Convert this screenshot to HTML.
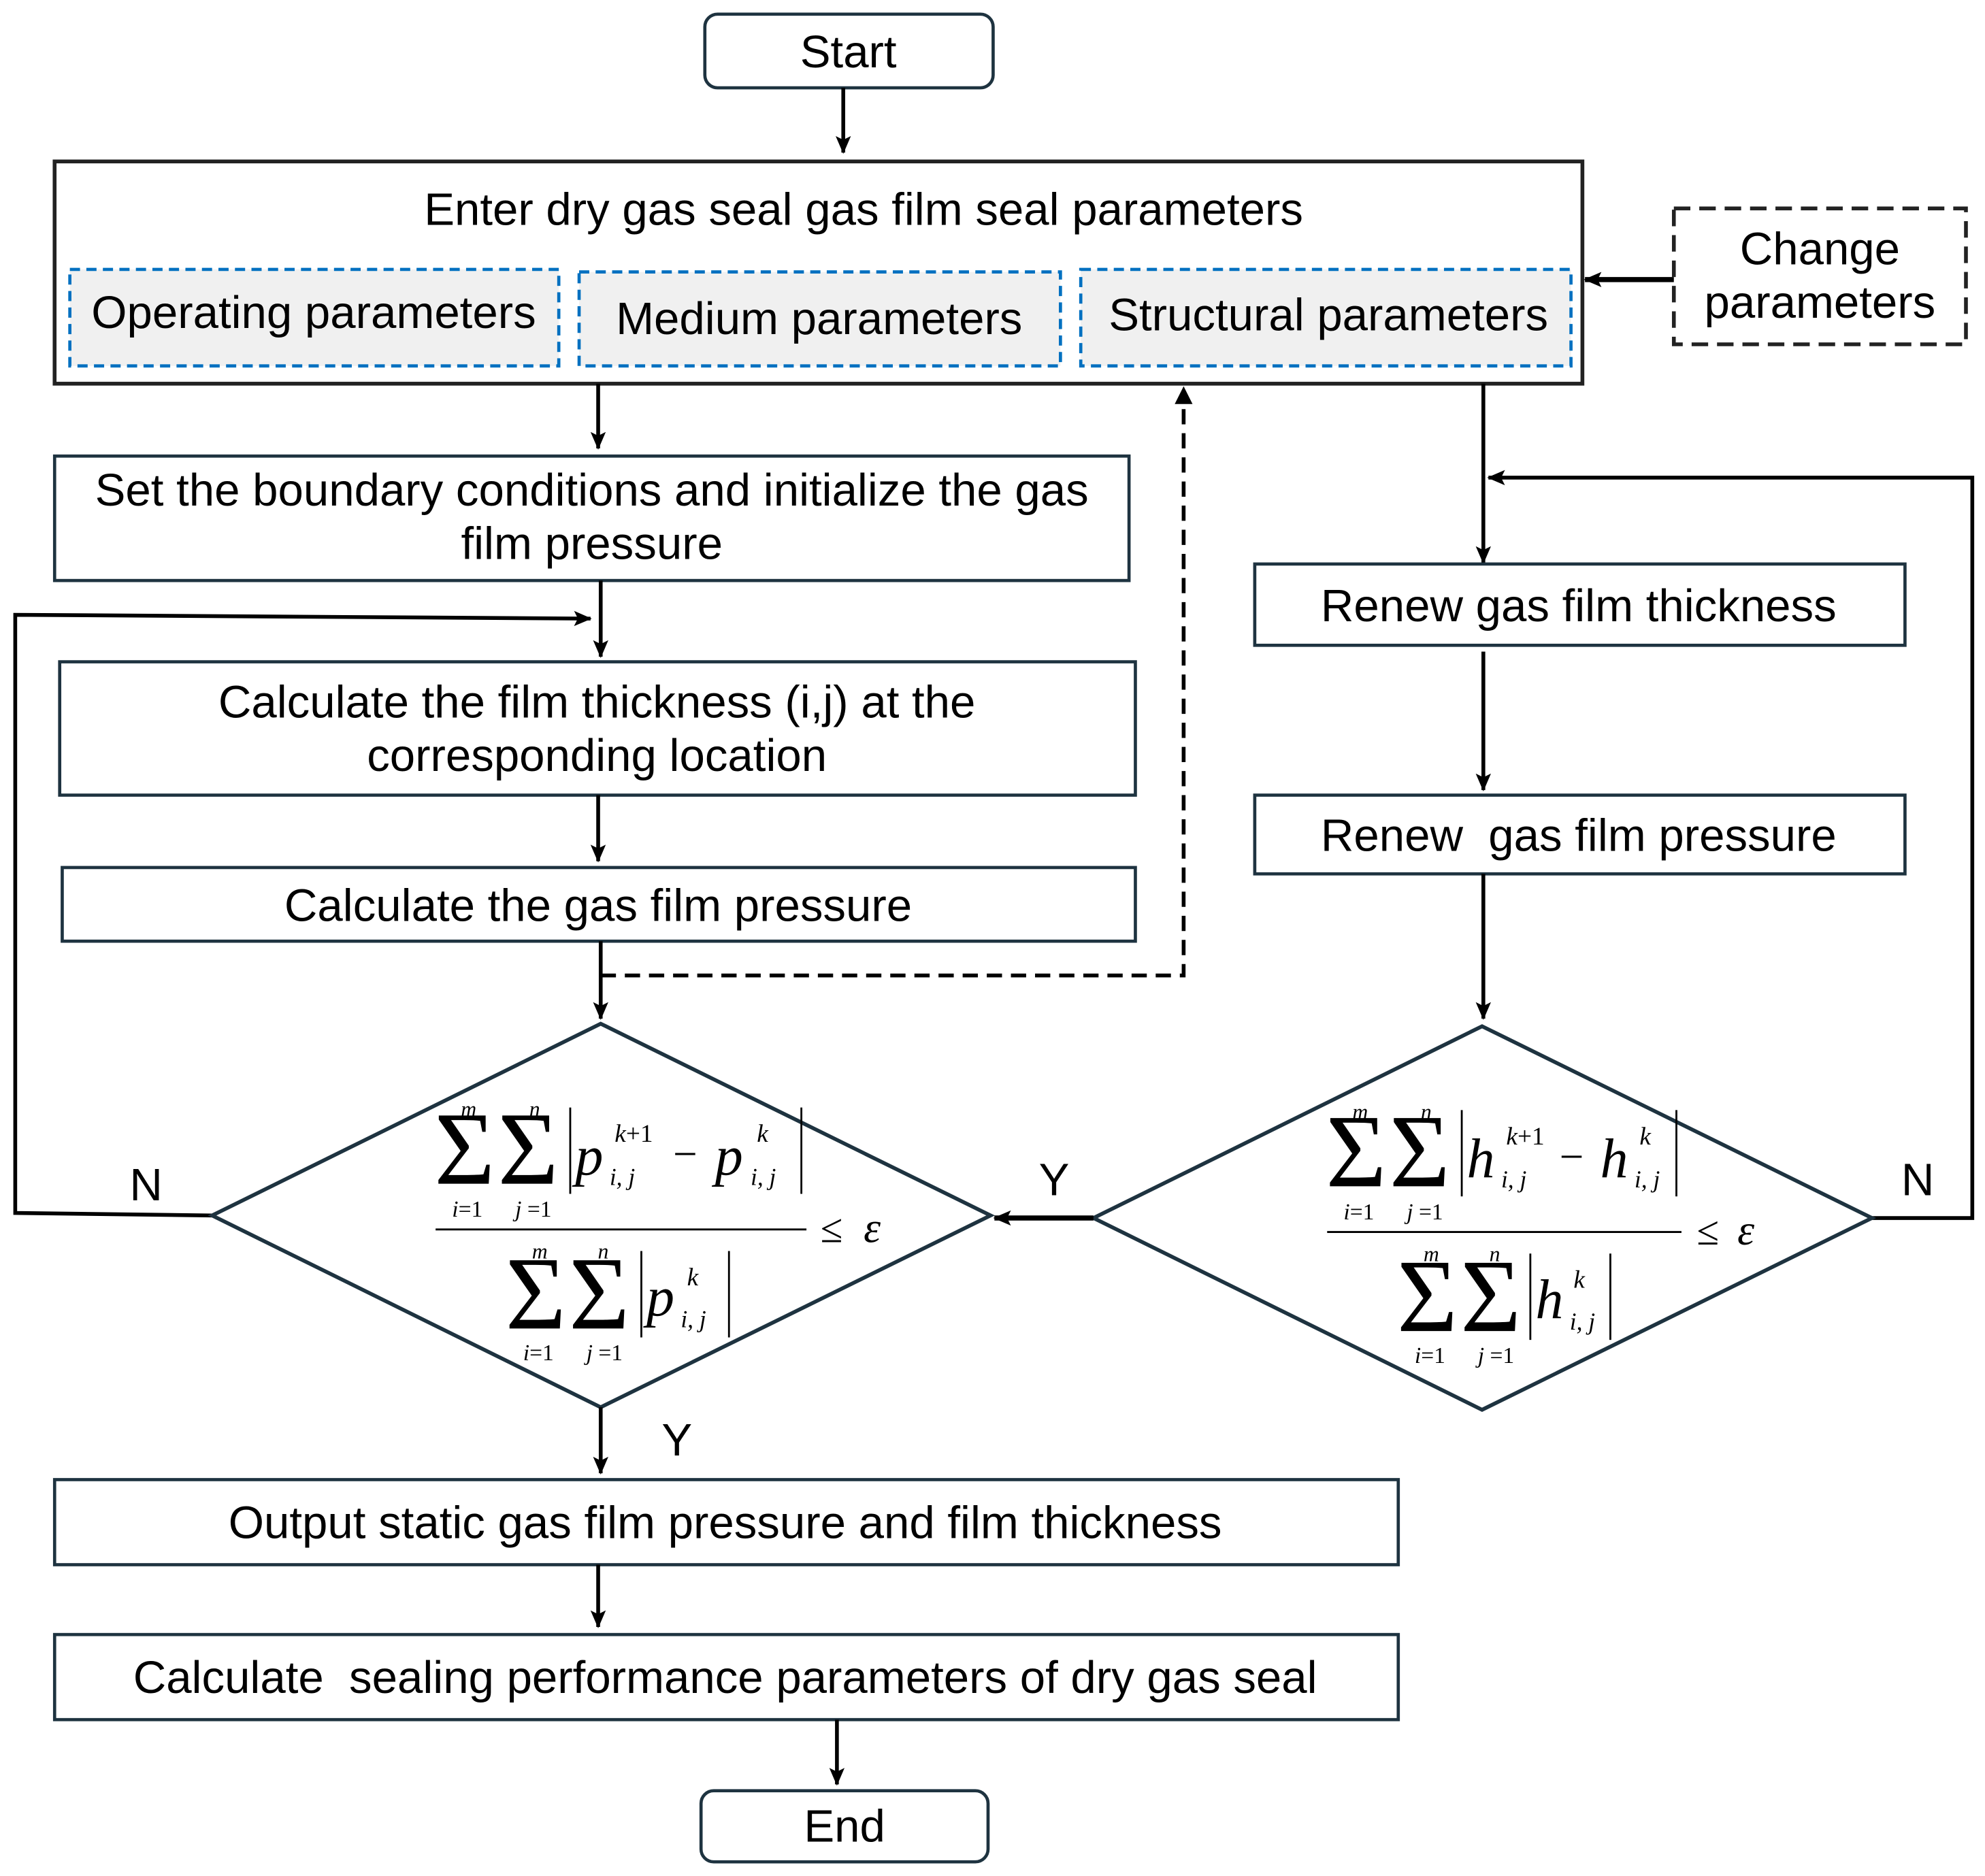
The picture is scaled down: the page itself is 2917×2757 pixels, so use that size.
<!DOCTYPE html>
<html><head><meta charset="utf-8"><style>html,body{margin:0;padding:0;background:#fff}svg{display:block}</style></head>
<body>
<svg width="2917" height="2757" viewBox="0 0 1563 1477" xmlns="http://www.w3.org/2000/svg">
<defs>
<marker id="b" markerWidth="14" markerHeight="14" refX="13" refY="7" orient="auto" markerUnits="userSpaceOnUse" viewBox="0 0 14 14"><path d="M0,1 L14,7 L0,13 L3,7 z" fill="#000"/></marker>
</defs>
<rect width="1563" height="1477" fill="#fff"/>
<g font-family="Liberation Sans, Arial, sans-serif" font-size="36" fill="#000" text-anchor="middle">
<rect x="555" y="11" width="227" height="58" rx="10" fill="#fff" stroke="#1e3340" stroke-width="2.5"/>
<text x="668" y="53">Start</text>
<line x1="664" y1="69" x2="664" y2="120" stroke="#000" stroke-width="3" marker-end="url(#b)"/>
<rect x="43" y="127" width="1203" height="175" fill="#fff" stroke="#222" stroke-width="3"/>
<text x="680" y="177">Enter dry gas seal gas film seal parameters</text>
<g fill="#f0f0f0" stroke="#0070c0" stroke-width="2.5" stroke-dasharray="8,5">
<rect x="55" y="212" width="385" height="76"/>
<rect x="456" y="214" width="379" height="74"/>
<rect x="851" y="212" width="386" height="76"/>
</g>
<text x="247" y="258">Operating parameters</text>
<text x="645" y="263">Medium parameters</text>
<text x="1046" y="260">Structural parameters</text>
<rect x="1318" y="164" width="230" height="107" fill="#fff" stroke="#222" stroke-width="3" stroke-dasharray="13,7"/>
<text x="1433" y="208">Change</text>
<text x="1433" y="250">parameters</text>
<line x1="1318" y1="220" x2="1248" y2="220" stroke="#000" stroke-width="4" marker-end="url(#b)"/>
<line x1="471" y1="302" x2="471" y2="353" stroke="#000" stroke-width="3" marker-end="url(#b)"/>
<rect x="43" y="359" width="846" height="98" fill="#fff" stroke="#1e3340" stroke-width="2.5"/>
<text x="466" y="398">Set the boundary conditions and initialize the gas</text>
<text x="466" y="440">film pressure</text>
<line x1="473" y1="457" x2="473" y2="517" stroke="#000" stroke-width="3" marker-end="url(#b)"/>
<polyline points="167,957 12,955 12,484 465,487" fill="none" stroke="#000" stroke-width="3" marker-end="url(#b)"/>
<rect x="47" y="521" width="847" height="105" fill="#fff" stroke="#1e3340" stroke-width="2.5"/>
<text x="470" y="565">Calculate the film thickness (i,j) at the</text>
<text x="470" y="607">corresponding location</text>
<line x1="471" y1="626" x2="471" y2="678" stroke="#000" stroke-width="3" marker-end="url(#b)"/>
<rect x="49" y="683" width="845" height="58" fill="#fff" stroke="#1e3340" stroke-width="2.5"/>
<text x="471" y="725">Calculate the gas film pressure</text>
<line x1="473" y1="741" x2="473" y2="802" stroke="#000" stroke-width="3" marker-end="url(#b)"/>
<polyline points="473,768 932,768 932,312" fill="none" stroke="#000" stroke-width="3" stroke-dasharray="12,7"/>
<path d="M925,318 L932,304 L939,318 z" fill="#000"/>
<polygon points="473,806 780,957 473,1108 167,957" fill="#fff" stroke="#1e3340" stroke-width="3"/>
<line x1="473" y1="1108" x2="473" y2="1160" stroke="#000" stroke-width="3" marker-end="url(#b)"/>
<text x="533" y="1146">Y</text>
<text x="115" y="945">N</text>
<line x1="1168" y1="302" x2="1168" y2="443" stroke="#000" stroke-width="3" marker-end="url(#b)"/>
<polyline points="1474,959 1553,959 1553,376 1172,376" fill="none" stroke="#000" stroke-width="3" marker-end="url(#b)"/>
<rect x="988" y="444" width="512" height="64" fill="#fff" stroke="#1e3340" stroke-width="2.5"/>
<text x="1243" y="489">Renew gas film thickness</text>
<line x1="1168" y1="513" x2="1168" y2="622" stroke="#000" stroke-width="3" marker-end="url(#b)"/>
<rect x="988" y="626" width="512" height="62" fill="#fff" stroke="#1e3340" stroke-width="2.5"/>
<text x="1243" y="670" xml:space="preserve">Renew  gas film pressure</text>
<line x1="1168" y1="688" x2="1168" y2="802" stroke="#000" stroke-width="3" marker-end="url(#b)"/>
<polygon points="1167,808 1474,959 1167,1110 861,959" fill="#fff" stroke="#1e3340" stroke-width="3"/>
<line x1="861" y1="959" x2="783" y2="959" stroke="#000" stroke-width="4" marker-end="url(#b)"/>
<text x="830" y="941">Y</text>
<text x="1510" y="941">N</text>
<rect x="43" y="1165" width="1058" height="67" fill="#fff" stroke="#1e3340" stroke-width="2.5"/>
<text x="571" y="1211">Output static gas film pressure and film thickness</text>
<line x1="471" y1="1232" x2="471" y2="1281" stroke="#000" stroke-width="3" marker-end="url(#b)"/>
<rect x="43" y="1287" width="1058" height="67" fill="#fff" stroke="#1e3340" stroke-width="2.5"/>
<text x="571" y="1333" xml:space="preserve">Calculate  sealing performance parameters of dry gas seal</text>
<line x1="659" y1="1354" x2="659" y2="1405" stroke="#000" stroke-width="3" marker-end="url(#b)"/>
<rect x="552" y="1410" width="226" height="56" rx="10" fill="#fff" stroke="#1e3340" stroke-width="2.5"/>
<text x="665" y="1450">End</text>
</g>
<g font-family="Liberation Serif, Times New Roman, serif" fill="#000">
<text x="342" y="932" font-size="82">Σ</text>
<text x="392" y="932" font-size="82">Σ</text>
<text x="369" y="879" font-size="17" font-style="italic" text-anchor="middle">m</text>
<text x="421" y="879" font-size="17" font-style="italic" text-anchor="middle">n</text>
<text x="368" y="958" font-size="18" text-anchor="middle"><tspan font-style="italic">i</tspan>=1</text>
<text x="420" y="958" font-size="18" text-anchor="middle"><tspan font-style="italic">j</tspan> =1</text>
<line x1="449" y1="872" x2="449" y2="940" stroke="#000" stroke-width="1.5"/>
<text x="453" y="925" font-size="44" font-style="italic">p</text>
<text x="484" y="899" font-size="20"><tspan font-style="italic">k</tspan>+1</text>
<text x="480" y="933" font-size="19" font-style="italic">i, j</text>
<text x="530" y="920" font-size="34">−</text>
<text x="563" y="925" font-size="44" font-style="italic">p</text>
<text x="596" y="899" font-size="20" font-style="italic">k</text>
<text x="591" y="933" font-size="19" font-style="italic">i, j</text>
<line x1="631" y1="872" x2="631" y2="940" stroke="#000" stroke-width="1.5"/>
<line x1="343" y1="968" x2="635" y2="968" stroke="#000" stroke-width="1.5"/>
<text x="646" y="978" font-size="32">≤</text>
<text x="680" y="978" font-size="34" font-style="italic">ε</text>
<text x="398" y="1046" font-size="82">Σ</text>
<text x="448" y="1046" font-size="82">Σ</text>
<text x="425" y="991" font-size="17" font-style="italic" text-anchor="middle">m</text>
<text x="475" y="991" font-size="17" font-style="italic" text-anchor="middle">n</text>
<text x="424" y="1071" font-size="18" text-anchor="middle"><tspan font-style="italic">i</tspan>=1</text>
<text x="476" y="1071" font-size="18" text-anchor="middle"><tspan font-style="italic">j</tspan> =1</text>
<line x1="505" y1="985" x2="505" y2="1053" stroke="#000" stroke-width="1.5"/>
<text x="509" y="1036" font-size="44" font-style="italic">p</text>
<text x="541" y="1012" font-size="20" font-style="italic">k</text>
<text x="536" y="1045" font-size="19" font-style="italic">i, j</text>
<line x1="574" y1="985" x2="574" y2="1053" stroke="#000" stroke-width="1.5"/>
</g>
<g transform="translate(702,2)" font-family="Liberation Serif, Times New Roman, serif" fill="#000">
<text x="342" y="932" font-size="82">Σ</text>
<text x="392" y="932" font-size="82">Σ</text>
<text x="369" y="879" font-size="17" font-style="italic" text-anchor="middle">m</text>
<text x="421" y="879" font-size="17" font-style="italic" text-anchor="middle">n</text>
<text x="368" y="958" font-size="18" text-anchor="middle"><tspan font-style="italic">i</tspan>=1</text>
<text x="420" y="958" font-size="18" text-anchor="middle"><tspan font-style="italic">j</tspan> =1</text>
<line x1="449" y1="872" x2="449" y2="940" stroke="#000" stroke-width="1.5"/>
<text x="453" y="925" font-size="44" font-style="italic">h</text>
<text x="484" y="899" font-size="20"><tspan font-style="italic">k</tspan>+1</text>
<text x="480" y="933" font-size="19" font-style="italic">i, j</text>
<text x="526" y="920" font-size="34">−</text>
<text x="558" y="925" font-size="44" font-style="italic">h</text>
<text x="589" y="899" font-size="20" font-style="italic">k</text>
<text x="585" y="933" font-size="19" font-style="italic">i, j</text>
<line x1="618" y1="872" x2="618" y2="940" stroke="#000" stroke-width="1.5"/>
<line x1="343" y1="968" x2="622" y2="968" stroke="#000" stroke-width="1.5"/>
<text x="634" y="978" font-size="32">≤</text>
<text x="666" y="978" font-size="34" font-style="italic">ε</text>
<text x="398" y="1046" font-size="82">Σ</text>
<text x="448" y="1046" font-size="82">Σ</text>
<text x="425" y="991" font-size="17" font-style="italic" text-anchor="middle">m</text>
<text x="475" y="991" font-size="17" font-style="italic" text-anchor="middle">n</text>
<text x="424" y="1071" font-size="18" text-anchor="middle"><tspan font-style="italic">i</tspan>=1</text>
<text x="476" y="1071" font-size="18" text-anchor="middle"><tspan font-style="italic">j</tspan> =1</text>
<line x1="503" y1="985" x2="503" y2="1053" stroke="#000" stroke-width="1.5"/>
<text x="507" y="1036" font-size="44" font-style="italic">h</text>
<text x="537" y="1012" font-size="20" font-style="italic">k</text>
<text x="534" y="1045" font-size="19" font-style="italic">i, j</text>
<line x1="566" y1="985" x2="566" y2="1053" stroke="#000" stroke-width="1.5"/>
</g>
</svg>
</body></html>
